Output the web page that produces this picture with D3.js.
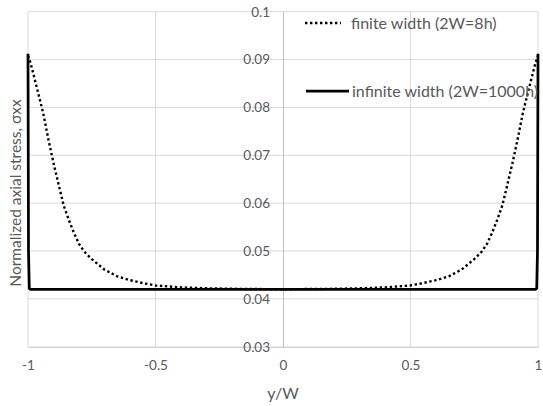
<!DOCTYPE html>
<meta charset="utf-8">
<style>
body { margin: 0; background: #fff; }
.tick text, .lbl { fill: #595959; font-family: Lato, "Open Sans", sans-serif; }
.grid line { stroke: #d9d9d9; stroke-width: 1px; }
.line { fill: none; stroke: #000; }
</style>
<body>
<script src="https://d3js.org/d3.v7.min.js"></script>
<script>
// x positions (y/W) and normalized axial stress values
var finiteX = [-1, -0.99, -0.98, -0.96, -0.94, -0.92, -0.9, -0.88, -0.86, -0.84, -0.82, -0.8, -0.78, -0.75, -0.7, -0.65, -0.6, -0.55, -0.5, -0.4, -0.3, -0.2, 0,
               0.2, 0.3, 0.4, 0.5, 0.55, 0.6, 0.65, 0.7, 0.75, 0.78, 0.8, 0.82, 0.84, 0.86, 0.88, 0.9, 0.92, 0.94, 0.96, 0.98, 0.99, 1];
var finiteY = [0.0908, 0.0893, 0.0872, 0.0830, 0.0787, 0.0733, 0.0684, 0.0639, 0.0595, 0.0565, 0.0538, 0.0515, 0.0499, 0.0483, 0.0461, 0.0447, 0.0439, 0.0433, 0.0428, 0.0424, 0.0422, 0.0421, 0.0420,
               0.0421, 0.0422, 0.0424, 0.0428, 0.0433, 0.0439, 0.0447, 0.0461, 0.0483, 0.0499, 0.0515, 0.0538, 0.0565, 0.0595, 0.0639, 0.0684, 0.0733, 0.0787, 0.0830, 0.0872, 0.0893, 0.0908];
var infiniteX = [-1, -0.998, -0.995, -0.99, -0.5, 0, 0.5, 0.99, 0.995, 0.998, 1];
var infiniteY = [0.0912, 0.0500, 0.0422, 0.0420, 0.0420, 0.0420, 0.0420, 0.0420, 0.0422, 0.0500, 0.0912];
var xTicks = [-1, -0.5, 0, 0.5, 1];
var yTicks = [0.03, 0.04, 0.05, 0.06, 0.07, 0.08, 0.09, 0.1];
var legendNames = ["finite width (2W=8h)", "infinite width (2W=1000h)"];

var W = 543, H = 406;
var x = d3.scaleLinear().domain([-1, 1]).range([28, 538]);
var y = d3.scaleLinear().domain([0.03, 0.1]).range([346.7, 11.7]);

var svg = d3.select("body").append("svg")
    .attr("width", W)
    .attr("height", H);

// gridlines
svg.append("g").attr("class", "grid")
  .selectAll("line").data(yTicks.slice(1)).enter().append("line")
    .attr("x1", x(-1)).attr("x2", x(1))
    .attr("y1", function(d) { return y(d); }).attr("y2", function(d) { return y(d); });
svg.append("g").attr("class", "grid")
  .selectAll("line").data(xTicks.filter(function(d) { return d != 0; })).enter().append("line")
    .attr("y1", y(0.03)).attr("y2", y(0.1))
    .attr("x1", function(d) { return x(d); }).attr("x2", function(d) { return x(d); });

// plain hyphen minus like the spreadsheet labels
var plain = function(d) { return String(d); };

// x axis along the bottom
var gx = svg.append("g")
    .attr("transform", "translate(0," + y(0.03) + ")")
    .call(d3.axisBottom(x).tickValues(xTicks).tickSize(0).tickPadding(14).tickFormat(plain));
gx.select(".domain").attr("stroke", "#bfbfbf");
gx.selectAll("text").style("font-size", "13.5px");

// y axis crossing at x=0
var gy = svg.append("g")
    .attr("transform", "translate(" + x(0) + ",0)")
    .call(d3.axisLeft(y).tickValues(yTicks).tickSize(0).tickPadding(13).tickFormat(plain));
gy.select(".domain").attr("stroke", "#bfbfbf");
gy.selectAll("text").style("font-size", "13.5px");

// series
var lineGen = d3.line()
    .x(function(d) { return x(d[0]); })
    .y(function(d) { return y(d[1]); });

svg.append("path")
    .datum(d3.zip(infiniteX, infiniteY))
    .attr("class", "line")
    .attr("stroke-width", 2.75)
    .attr("d", lineGen);

svg.append("path")
    .datum(d3.zip(finiteX, finiteY))
    .attr("class", "line")
    .attr("stroke-width", 2.4)
    .attr("stroke-dasharray", "2.4,2.6")
    .attr("d", lineGen);

// legend
var legendY = [23, 91];
svg.append("line")
    .attr("class", "line")
    .attr("x1", 305).attr("x2", 341).attr("y1", legendY[0]).attr("y2", legendY[0])
    .attr("stroke-width", 2.4).attr("stroke-dasharray", "2.4,2.6");
svg.append("line")
    .attr("class", "line")
    .attr("x1", 306).attr("x2", 349).attr("y1", legendY[1]).attr("y2", legendY[1])
    .attr("stroke-width", 2.75);
svg.selectAll(".leg").data(legendNames).enter().append("text")
    .attr("class", "lbl leg")
    .attr("x", function(d, i) { return i ? 352 : 351; })
    .attr("y", function(d, i) { return legendY[i]; })
    .attr("dy", "0.35em")
    .style("font-size", "16px")
    .text(function(d) { return d; });

// axis titles
svg.append("text")
    .attr("class", "lbl")
    .attr("x", x(0))
    .attr("y", 393)
    .attr("dy", "0.35em")
    .attr("text-anchor", "middle")
    .style("font-size", "16px")
    .text("y/W");
svg.append("text")
    .attr("class", "lbl")
    .attr("transform", "translate(16,193) rotate(-90)")
    .attr("dy", "0.35em")
    .attr("text-anchor", "middle")
    .style("font-size", "15.5px")
    .text("Normalized axial stress, σxx");
</script>
</body>
